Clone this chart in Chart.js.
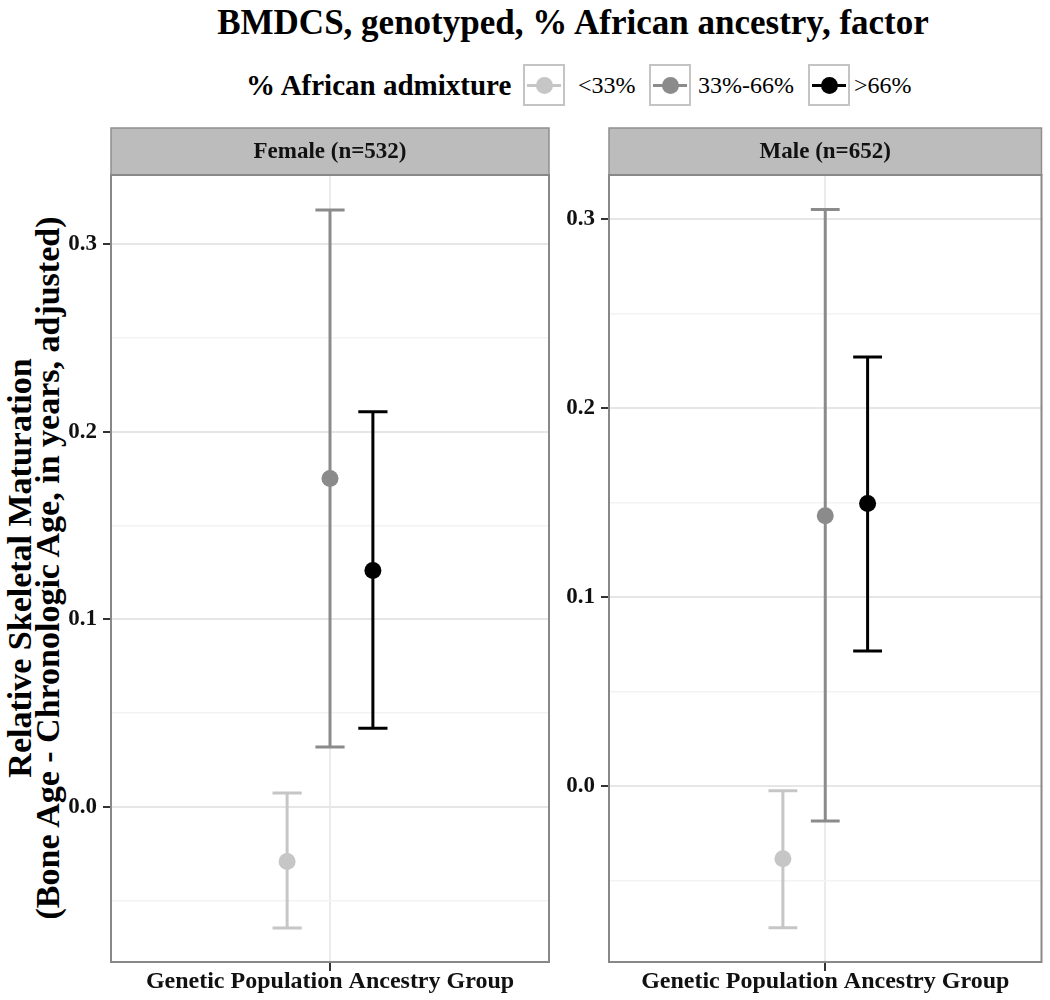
<!DOCTYPE html>
<html>
<head>
<meta charset="utf-8">
<script src="https://cdn.jsdelivr.net/npm/chart.js@4.4.1/dist/chart.umd.min.js"></script>
<style>
  body { margin: 0; background: #fff; font-family: "Liberation Serif", serif; }
  #page { position: relative; width: 1050px; height: 1000px; overflow: hidden; }
  .txt { position: absolute; white-space: nowrap; color: #000; }
  .key { position: absolute; top: 64px; width: 38px; height: 38px; border: 2px solid #c4c4c4; background: #fff; }
  .key .ln { position: absolute; left: 2px; right: 2px; top: 18px; height: 3px; }
  .key .pt { position: absolute; left: 11px; top: 11px; width: 17px; height: 17px; border-radius: 50%; }
  canvas { position: absolute; top: 120px; }
</style>
</head>
<body>
<div id="page">
  <div class="txt" id="title" style="left:573px; top:3px; font:bold 35px 'Liberation Serif'; line-height:40px; transform:translateX(-50%);">BMDCS, genotyped, % African ancestry, factor</div>

  <div class="txt" style="left:246px; top:68px; font:bold 29px 'Liberation Serif'; line-height:34px;">% African admixture</div>
  <div id="legend"></div>

  <div class="txt" id="ytitle" style="left:34px; top:568px; font:bold 34px 'Liberation Serif'; line-height:28px; text-align:center; transform:translate(-50%,-50%) rotate(-90deg);">Relative Skeletal Maturation<br>(Bone Age - Chronologic Age, in years, adjusted)</div>

  <canvas id="female" width="560" height="880" style="left:0px;"></canvas>
  <canvas id="male" width="490" height="880" style="left:560px;"></canvas>
</div>

<script>
// groups (legend order) and their grey shades
const groups = ["<33%", "33%-66%", ">66%"];
const groupColors = ["#c6c6c6", "#8b8b8b", "#000000"];

// Female (n=532): mean and 95% interval
const femaleMean = [-0.029, 0.175, 0.126];
const femaleLower = [-0.0645, 0.032, 0.042];
const femaleUpper = [0.0075, 0.318, 0.2105];

// Male (n=652)
const maleMean = [-0.0385, 0.143, 0.1495];
const maleLower = [-0.075, -0.0185, 0.0715];
const maleUpper = [-0.0025, 0.305, 0.227];

// axis ranges and tick values
const femaleYRange = [-0.0826, 0.3367];
const maleYRange = [-0.0931, 0.3233];
const yTickValues = [-0.05, 0, 0.05, 0.1, 0.15, 0.2, 0.25, 0.3];
const xRange = [0.4, 1.6];

const dodge = 0.1175;   // spacing between groups inside the single x category
const capHalf = 0.04;   // half width of error bar caps, in x units

const FONT = "'Liberation Serif', serif";

// legend keys
const legendBoxes = [523, 649, 808];
const legendLabels = [578, 698, 854];
const legend = document.getElementById("legend");
groups.forEach((g, i) => {
  const box = document.createElement("div");
  box.className = "key";
  box.style.left = legendBoxes[i] + "px";
  box.innerHTML = `<div class="ln" style="background:${groupColors[i]}"></div><div class="pt" style="background:${groupColors[i]}"></div>`;
  legend.appendChild(box);
  const lab = document.createElement("div");
  lab.className = "txt";
  lab.style.cssText = `left:${legendLabels[i]}px; top:69px; font:24px ${FONT}; line-height:32px;`;
  lab.textContent = g;
  legend.appendChild(lab);
});

const isMajor = (v) => Math.abs(v * 10 - Math.round(v * 10)) < 1e-6;

// grey strip with the panel label, behind the title box
const stripBg = {
  id: "stripBg",
  beforeDraw(chart) {
    const { ctx, chartArea } = chart;
    const t = chart.titleBlock;
    ctx.save();
    ctx.fillStyle = "#bcbcbc";
    ctx.fillRect(chartArea.left, t.top, chartArea.right - chartArea.left, chartArea.top - t.top);
    ctx.strokeStyle = "#8f8f8f";
    ctx.lineWidth = 1.5;
    ctx.strokeRect(chartArea.left, t.top, chartArea.right - chartArea.left, chartArea.top - t.top);
    ctx.restore();
  }
};

// vertical interval lines with caps, drawn under the points
const errorBars = {
  id: "errorBars",
  beforeDatasetsDraw(chart) {
    const { ctx, scales: { x, y } } = chart;
    ctx.save();
    ctx.lineWidth = 3;
    chart.data.datasets.forEach((ds) => {
      ctx.strokeStyle = ds.backgroundColor;
      ds.data.forEach((p) => {
        const px = x.getPixelForValue(p.x);
        const w = x.getPixelForValue(p.x + capHalf) - px;
        const top = y.getPixelForValue(p.hi);
        const bot = y.getPixelForValue(p.lo);
        ctx.beginPath();
        ctx.moveTo(px, top); ctx.lineTo(px, bot);
        ctx.moveTo(px - w, top); ctx.lineTo(px + w, top);
        ctx.moveTo(px - w, bot); ctx.lineTo(px + w, bot);
        ctx.stroke();
      });
    });
    ctx.restore();
  }
};

// panel border
const panelBorder = {
  id: "panelBorder",
  afterDraw(chart) {
    const { ctx, chartArea: a } = chart;
    ctx.save();
    ctx.strokeStyle = "#888888";
    ctx.lineWidth = 2;
    ctx.strokeRect(a.left, a.top, a.right - a.left, a.bottom - a.top);
    ctx.restore();
  }
};

function makePanel(id, label, mean, lower, upper, yRange, yAxisWidth, padRight) {
  const datasets = groups.map((g, i) => ({
    label: g,
    data: [{ x: 1 + (i - 1) * dodge, y: mean[i], lo: lower[i], hi: upper[i] }],
    backgroundColor: groupColors[i],
    borderWidth: 0,
    pointRadius: 8.5,
    pointHoverRadius: 8.5
  }));

  return new Chart(document.getElementById(id), {
    type: "scatter",
    data: { datasets },
    plugins: [stripBg, errorBars, panelBorder],
    options: {
      responsive: false,
      animation: false,
      layout: { padding: { top: 8, right: padRight, bottom: 0, left: 0 } },
      plugins: {
        legend: { display: false },
        tooltip: { enabled: false },
        title: {
          display: true,
          text: label,
          fullSize: false,
          color: "#111",
          font: { family: FONT, size: 23, weight: "bold", lineHeight: 1.2 },
          padding: { top: 10, bottom: 9.4 }
        }
      },
      scales: {
        x: {
          type: "linear",
          min: xRange[0],
          max: xRange[1],
          afterBuildTicks: (s) => { s.ticks = [{ value: 1 }]; },
          afterFit: (s) => { s.height = 38; },
          ticks: { callback: () => "" },
          grid: { color: "#ebebeb", lineWidth: 2, tickColor: "#333", tickLength: 9, tickWidth: 2 },
          border: { display: false },
          title: {
            display: true,
            text: "Genetic Population Ancestry Group",
            color: "#111",
            font: { family: FONT, size: 24, weight: "bold" }
          }
        },
        y: {
          min: yRange[0],
          max: yRange[1],
          afterBuildTicks: (s) => { s.ticks = yTickValues.map((v) => ({ value: v })); },
          afterFit: (s) => { s.width = yAxisWidth; },
          ticks: {
            padding: 6,
            color: "#111",
            font: { family: FONT, size: 23, weight: "bold" },
            callback: (v) => (isMajor(v) ? v.toFixed(1) : "")
          },
          grid: {
            color: (c) => (isMajor(c.tick.value) ? "#e6e6e6" : "#f3f3f3"),
            lineWidth: (c) => (isMajor(c.tick.value) ? 2 : 1.5),
            tickColor: (c) => (isMajor(c.tick.value) ? "#333" : "rgba(0,0,0,0)"),
            tickLength: 8,
            tickWidth: 2
          },
          border: { display: false }
        }
      }
    }
  });
}

makePanel("female", "Female (n=532)", femaleMean, femaleLower, femaleUpper, femaleYRange, 111, 11);
makePanel("male", "Male (n=652)", maleMean, maleLower, maleUpper, maleYRange, 49, 3);
</script>
</body>
</html>
